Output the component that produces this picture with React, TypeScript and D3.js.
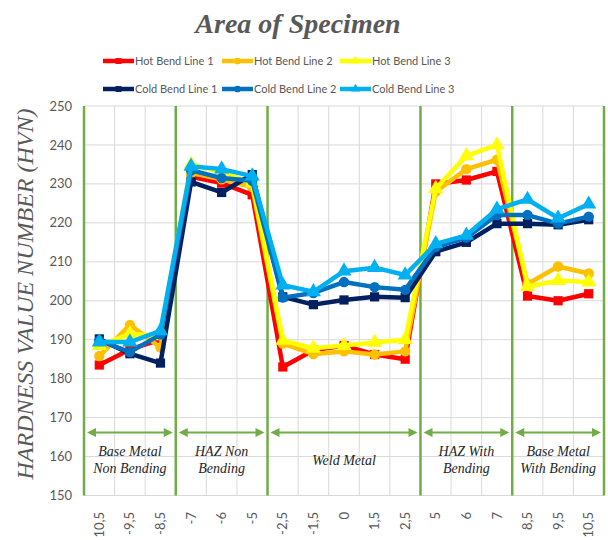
import React, { useEffect, useRef } from 'react';
import * as d3 from 'd3';

// x categories (distance from weld centre), as printed on the chart
const categories = ['10,5', '-9,5', '-8,5', '-7', '-6', '-5', '-2,5', '-1,5', '0', '1,5', '2,5', '5', '6', '7', '8,5', '9,5', '10,5 '];

const seriesNames = ['Hot Bend Line 1', 'Hot Bend Line 2', 'Hot Bend Line 3', 'Cold Bend Line 1', 'Cold Bend Line 2', 'Cold Bend Line 3'];

const hotBend1 = [183.5, 187.5, 190, 231.8, 230.2, 227.2, 183, 187.3, 188.5, 186.2, 185, 230, 231, 233.2, 201.2, 200, 201.8];
const hotBend2 = [185.8, 193.8, 188, 232.8, 231.2, 229.2, 189, 186.3, 187, 186.2, 187, 228, 233.8, 236.2, 204.3, 208.8, 207];
const hotBend3 = [188.5, 191.5, 191, 235, 233, 230.2, 189.8, 187.8, 188.5, 189.3, 190, 228.8, 237.2, 240, 203.6, 205.2, 204.8];
const coldBend1 = [190.2, 186.4, 184, 230.5, 227.8, 232.4, 201, 199, 200.2, 201, 200.8, 212.6, 215, 219.8, 219.8, 219.5, 220.8];
const coldBend2 = [189.8, 186.8, 191.3, 233.5, 231.5, 230.8, 200.8, 202, 204.8, 203.5, 202.8, 213.8, 216.2, 222, 222, 219.8, 221.6];
const coldBend3 = [189.4, 189.4, 192.3, 234.5, 233.8, 232, 204, 202.3, 207.6, 208.5, 206.6, 214.6, 216.8, 223.5, 226, 221.2, 224.8];

const yTicks = [150, 160, 170, 180, 190, 200, 210, 220, 230, 240, 250];

// region boundaries as category indices, and their labels
const regionBreaks = [0, 3, 6, 11, 14, 17];
const regionLabels = [['Base Metal', 'Non Bending'], ['HAZ Non', 'Bending'], ['Weld Metal'], ['HAZ With', 'Bending'], ['Base Metal', 'With Bending']];

const allSeries = [hotBend1, hotBend2, hotBend3, coldBend1, coldBend2, coldBend3];
const colors = ['#FF0000', '#FFC000', '#FFFF00', '#002060', '#0070C0', '#00B0F0'];
const shapes = [d3.symbolSquare, d3.symbolCircle, d3.symbolTriangle, d3.symbolSquare, d3.symbolCircle, d3.symbolTriangle];

const App = () => {
  const svgRef = useRef(null);

  useEffect(() => {
    const svg = d3.select(svgRef.current);
    svg.selectAll('*').remove();

    const width = 608;
    const height = 540;
    const left = 84, right = 604, top = 106, bottom = 495.5;
    const green = '#70AD47';
    const gray = '#595959';
    const sans = 'Lato, "Liberation Sans", sans-serif';
    const serif = '"Liberation Serif", "DejaVu Serif", serif';

    svg.attr('width', width).attr('height', height);

    const x = d3.scaleBand().domain(categories).range([left, right]).padding(0);
    const y = d3.scaleLinear().domain([150, 250]).range([bottom, top]);
    const bw = x.bandwidth();
    const cx = (c) => x(c) + bw / 2;

    svg.append('rect').attr('width', width).attr('height', height).attr('fill', '#fff');

    // horizontal grid
    svg.append('g').selectAll('line').data(yTicks).join('line')
      .attr('x1', left).attr('x2', right)
      .attr('y1', (d) => y(d)).attr('y2', (d) => y(d))
      .attr('stroke', '#D9D9D9').attr('stroke-width', 1);

    // vertical grid between categories
    const bounds = d3.range(categories.length + 1).map((i) => left + i * bw);
    svg.append('g').selectAll('line').data(bounds).join('line')
      .attr('x1', (d) => d).attr('x2', (d) => d)
      .attr('y1', top).attr('y2', bottom)
      .attr('stroke', '#D9D9D9').attr('stroke-width', 1);

    // green region separators
    svg.append('g').selectAll('line').data(regionBreaks).join('line')
      .attr('x1', (d) => left + d * bw).attr('x2', (d) => left + d * bw)
      .attr('y1', top).attr('y2', bottom)
      .attr('stroke', green).attr('stroke-width', 2.5);

    // y tick labels
    svg.append('g').selectAll('text').data(yTicks).join('text')
      .attr('x', 72).attr('y', (d) => y(d)).attr('dy', '0.35em')
      .attr('text-anchor', 'end')
      .style('font-family', sans).style('font-size', '13px').style('fill', gray)
      .text((d) => d);

    // x tick labels (rotated)
    svg.append('g').selectAll('text').data(categories).join('text')
      .attr('transform', (d) => `translate(${cx(d)},512) rotate(-90)`)
      .attr('dy', '0.35em')
      .attr('text-anchor', 'end')
      .style('font-family', sans).style('font-size', '13px').style('fill', gray)
      .text((d) => d.trim());

    // region arrows and labels
    const arrowY = 432.5;
    const rg = svg.append('g');
    regionLabels.forEach((lines, i) => {
      const x0 = left + regionBreaks[i] * bw + 3;
      const x1 = left + regionBreaks[i + 1] * bw - 3;
      rg.append('line').attr('x1', x0 + 4).attr('x2', x1 - 4).attr('y1', arrowY).attr('y2', arrowY)
        .attr('stroke', green).attr('stroke-width', 2);
      rg.append('path').attr('d', `M${x0},${arrowY} L${x0 + 9},${arrowY - 4.5} L${x0 + 9},${arrowY + 4.5} Z`).attr('fill', green);
      rg.append('path').attr('d', `M${x1},${arrowY} L${x1 - 9},${arrowY - 4.5} L${x1 - 9},${arrowY + 4.5} Z`).attr('fill', green);
      const mid = (x0 + x1) / 2;
      const baseY = lines.length === 1 ? 465 : 456;
      lines.forEach((t, j) => {
        rg.append('text').attr('x', mid).attr('y', baseY + j * 17)
          .attr('text-anchor', 'middle')
          .style('font-family', serif).style('font-style', 'italic').style('font-size', '14px').style('fill', '#262626')
          .text(t);
      });
    });

    // series
    const line = d3.line().x((d, i) => cx(categories[i])).y((d) => y(d));
    allSeries.forEach((vals, s) => {
      const g = svg.append('g');
      g.append('path').datum(vals).attr('d', line)
        .attr('fill', 'none').attr('stroke', colors[s]).attr('stroke-width', 4.5)
        .attr('stroke-linejoin', 'round');
      g.selectAll('path.mk').data(vals).join('path')
        .attr('class', 'mk')
        .attr('transform', (d, i) => `translate(${cx(categories[i])},${y(d)})`)
        .attr('d', d3.symbol().type(shapes[s]).size(s % 3 === 2 ? 100 : 85))
        .attr('fill', colors[s]);
    });

    // legend
    const legendX = [103, 222, 340];
    const legendY = [61, 89];
    const lg = svg.append('g');
    seriesNames.forEach((name, s) => {
      const lx = legendX[s % 3];
      const ly = legendY[Math.floor(s / 3)];
      lg.append('line').attr('x1', lx).attr('x2', lx + 31).attr('y1', ly).attr('y2', ly)
        .attr('stroke', colors[s]).attr('stroke-width', 4.5);
      lg.append('path').attr('transform', `translate(${lx + 15.5},${ly})`)
        .attr('d', d3.symbol().type(shapes[s]).size(35)).attr('fill', colors[s]);
      lg.append('text').attr('x', lx + 32).attr('y', ly).attr('dy', '0.35em')
        .style('font-family', sans).style('font-size', '11px').style('fill', gray)
        .text(name);
    });

    // title
    svg.append('text').attr('x', 298).attr('y', 33).attr('text-anchor', 'middle')
      .style('font-family', serif).style('font-style', 'italic').style('font-weight', 'bold')
      .style('font-size', '28px').style('fill', gray)
      .text('Area of Specimen');

    // y axis title
    svg.append('text').attr('transform', 'translate(33,294) rotate(-90)')
      .attr('text-anchor', 'middle')
      .style('font-family', serif).style('font-style', 'italic')
      .style('font-size', '24px').style('fill', gray)
      .text('HARDNESS VALUE NUMBER (HVN)');
  }, []);

  return <svg ref={svgRef} style={{ position: 'absolute', left: 0, top: 0, display: 'block' }} />;
};

export default App;
